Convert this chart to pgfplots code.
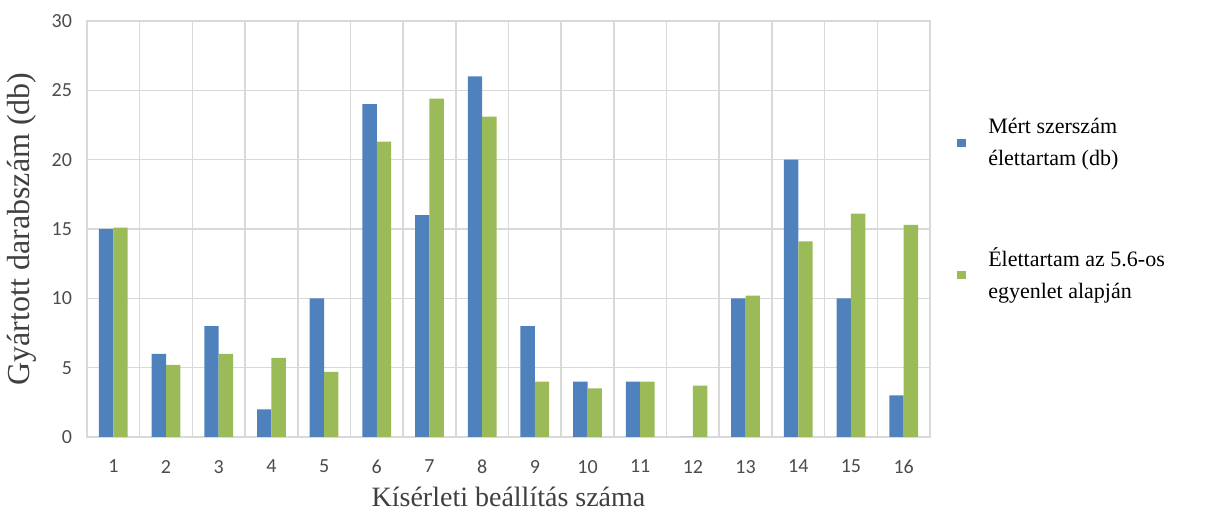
\documentclass[border=0pt]{standalone}
\usepackage{pgfplots}
\pgfplotsset{compat=1.18}
\usepackage{fontspec}
\setmainfont{Liberation Serif}
\newfontfamily\tickfont{Carlito}
\definecolor{meres}{HTML}{4F81BD}
\definecolor{becsles}{HTML}{9BBB59}
\definecolor{racs}{HTML}{D9D9D9}
\begin{document}
\begin{tikzpicture}
\begin{axis}[
    scale only axis,
    width=421.5pt, height=208pt,
    ybar=0pt, bar width=7.2pt,
    xmin=0.5, xmax=16.5,
    ymin=0, ymax=30,
    xtick={1,...,16},
    minor xtick={0.5,1.5,...,16.5},
    ytick={0,5,...,30},
    major tick length=0pt, minor tick length=0pt,
    xmajorgrids=false, xminorgrids=true, ymajorgrids=true,
    grid style={draw=racs, line width=0.8pt},
    minor grid style={draw=racs, line width=0.8pt},
    axis line style={draw=racs, line width=0.8pt},
    /pgf/number format/assume math mode=true,
    tick label style={font=\tickfont\fontsize{10}{12}\selectfont, text=black!70},
    xticklabel style={yshift=-8pt},
    yticklabel style={xshift=-4pt},
    ylabel={Gyártott darabszám (db)},
    xlabel={Kísérleti beállítás száma},
    ylabel style={at={(axis description cs:-0.077,0.5)}, anchor=center, font=\rmfamily\fontsize{16}{18}\selectfont, text=black!75},
    xlabel style={at={(axis description cs:0.5,-0.144)}, anchor=center, font=\rmfamily\fontsize{14}{16}\selectfont, text=black!75},
    legend style={at={(1.025,0.546)}, anchor=west, draw=none, fill=none,
        font=\rmfamily\fontsize{11}{16}\selectfont, row sep=36pt,
        cells={align=left, anchor=west, font=\rmfamily\fontsize{11}{16}\selectfont}},
    legend image code/.code={\fill[#1] (0pt,-2.2pt) rectangle (4.4pt,2.2pt); \path (13.4pt,0pt);},
]
\addplot[fill=meres, draw=none] coordinates {
    (1,15)(2,6)(3,8)(4,2)(5,10)(6,24)(7,16)(8,26)
    (9,8)(10,4)(11,4)(12,0)(13,10)(14,20)(15,10)(16,3) };
\addplot[fill=becsles, draw=none] coordinates {
    (1,15.1)(2,5.2)(3,6)(4,5.7)(5,4.7)(6,21.3)(7,24.4)(8,23.1)
    (9,4)(10,3.5)(11,4)(12,3.7)(13,10.2)(14,14.1)(15,16.1)(16,15.3) };
\legend{Mért szerszám\\élettartam (db), Élettartam az 5.6-os\\egyenlet alapján}
\end{axis}
\pgfresetboundingbox
\useasboundingbox (current axis.south west) ++(-43.5pt,-37.5pt) rectangle ++(603pt,256pt);
\end{tikzpicture}
\end{document}
